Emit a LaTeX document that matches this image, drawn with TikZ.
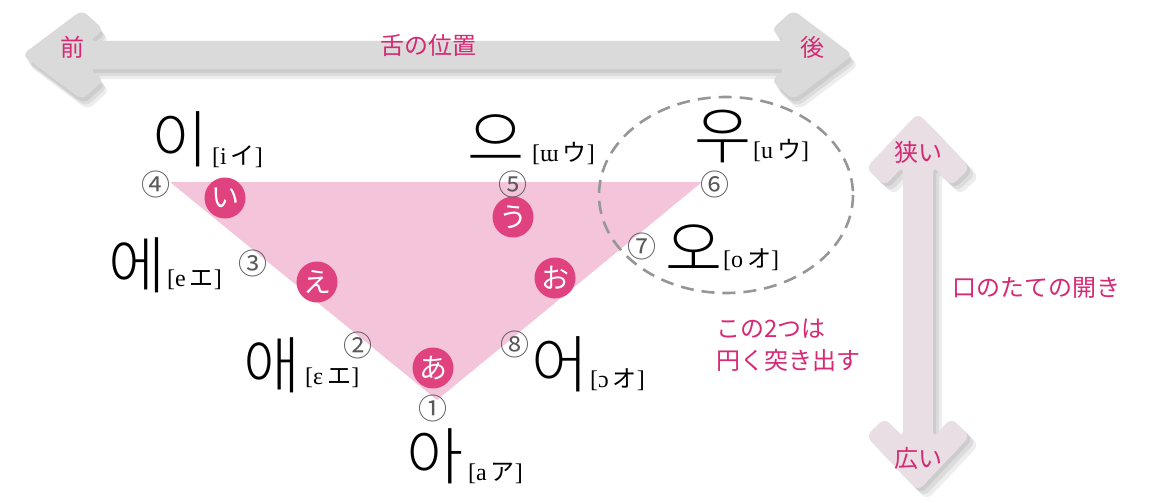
\documentclass[tikz,border=0pt]{standalone}
\usepackage{fontspec}
\newfontfamily\jp{Noto Sans CJK JP}
\newfontfamily\kr{Noto Sans CJK KR Light}
\newfontfamily\ipa{Liberation Serif}
\definecolor{tripink}{RGB}{244,196,218}
\definecolor{kanapink}{RGB}{224,66,128}
\definecolor{labelpink}{RGB}{214,40,115}
\definecolor{numgray}{RGB}{90,90,90}
\definecolor{arrowgray}{RGB}{218,218,218}
\definecolor{varrow}{RGB}{234,222,229}
\definecolor{dashgray}{RGB}{150,150,150}
\begin{document}
\begin{tikzpicture}[x=1pt,y=-1pt,
  hangul/.style={font=\kr\fontsize{62}{62}\selectfont, inner sep=0pt},
  pron/.style={font=\ipa\fontsize{24}{24}\selectfont, inner sep=0pt, anchor=west},
  num/.style={font=\jp\fontsize{29}{29}\selectfont, text=numgray, inner sep=0pt},
  kana/.style={circle, fill=kanapink, minimum size=41pt, text=white, font=\jp\fontsize{28}{28}\selectfont, inner sep=0pt},
  lbl/.style={text=labelpink, font=\jp\fontsize{24}{24}\selectfont, inner sep=0pt},
  shade/.style={fill=black, opacity=0.07, rounded corners=7pt},
]
\useasboundingbox (0,0) rectangle (1151,503);

% horizontal arrow (shadow + body)
\foreach \dx/\dy in {2/4,4/7,6/10}{
\fill[shade, shift={(\dx,\dy)}] (22,55) -- (82,10) -- (104,30) -- (89,41) -- (786,41) -- (771,30) -- (793,10) -- (853,55) -- (793,100) -- (771,80) -- (786,69) -- (89,69) -- (104,80) -- (82,100) -- cycle;
}
\fill[arrowgray, rounded corners=7pt] (22,55) -- (82,10) -- (104,30) -- (89,41) -- (786,41) -- (771,30) -- (793,10) -- (853,55) -- (793,100) -- (771,80) -- (786,69) -- (89,69) -- (104,80) -- (82,100) -- cycle;

% vertical arrow
\foreach \dx/\dy in {3/3,6/6,9/9}{
\fill[shade, shift={(\dx,\dy)}] (918,113) -- (970,168) -- (951,186) -- (933,166) -- (933,438) -- (951,418) -- (970,436) -- (918,491) -- (866,436) -- (885,418) -- (903,438) -- (903,166) -- (885,186) -- (866,168) -- cycle;
}
\fill[varrow, rounded corners=7pt] (918,113) -- (970,168) -- (951,186) -- (933,166) -- (933,438) -- (951,418) -- (970,436) -- (918,491) -- (866,436) -- (885,418) -- (903,438) -- (903,166) -- (885,186) -- (866,168) -- cycle;

% arrow labels
\node[lbl] (front) at (72,47) {前};
\node[lbl] (tongue) at (428,45) {舌の位置};
\node[lbl] (back) at (812,47) {後};
\node[lbl] (narrow) at (918,152) {狭い};
\node[lbl] (wide) at (918,458) {広い};
\node[lbl] (open) at (1036,288) {口のたての開き};
\node[lbl, align=left, anchor=west, font=\jp\fontsize{24}{32}\selectfont] (round) at (716,345) {この2つは\\円く突き出す};

% triangle
\coordinate (t4) at (170,182);
\coordinate (t6) at (702,182);
\coordinate (t1) at (437,400);
\fill[tripink] (t4) -- (t6) -- (t1) -- cycle;

% dashed ellipse
\draw[dashgray, line width=2.6pt, dash pattern=on 13pt off 8pt] (726,195) ellipse [x radius=127, y radius=98];

% kana circles
\node[kana] (ki) at (225,198) {い};
\node[kana] (ke) at (317,282) {え};
\node[kana] (ka) at (433,368) {あ};
\node[kana] (ku) at (513,217) {う};
\node[kana] (ko) at (555,278) {お};

% circled numbers
\node[num] (n1) at (433,408) {①};
\node[num] (n2) at (358,345) {②};
\node[num] (n3) at (253,263) {③};
\node[num] (n4) at (156,184) {④};
\node[num] (n5) at (513,184) {⑤};
\node[num] (n6) at (715,184) {⑥};
\node[num] (n7) at (642,246) {⑦};
\node[num] (n8) at (515,344) {⑧};

% hangul
\node[hangul] (hi) at (180,139) {이};
\node[pron] (pi) at (212,157) {[i\,{\jp イ}]};
\node[hangul] (he) at (137,265) {에};
\node[pron] (pe) at (167,280) {[e\,{\jp エ}]};
\node[hangul] (hae) at (272,365) {애};
\node[pron] (pae) at (305,378) {[ɛ\,{\jp エ}]};
\node[hangul] (ha) at (435,456) {아};
\node[pron] (pa) at (468,473) {[a\,{\jp ア}]};
\node[hangul] (heu) at (496,138) {으};
\node[pron] (peu) at (532,153) {[ɯ\,{\jp ウ}]};
\node[hangul] (hu) at (723,136) {우};
\node[pron] (pu) at (753,150) {[u\,{\jp ウ}]};
\node[hangul] (ho) at (694,248) {오};
\node[pron] (po) at (723,260) {[o\,{\jp オ}]};
\node[hangul] (heo) at (560,364) {어};
\node[pron] (peo) at (590,380) {[ɔ\,{\jp オ}]};
\end{tikzpicture}
\end{document}
